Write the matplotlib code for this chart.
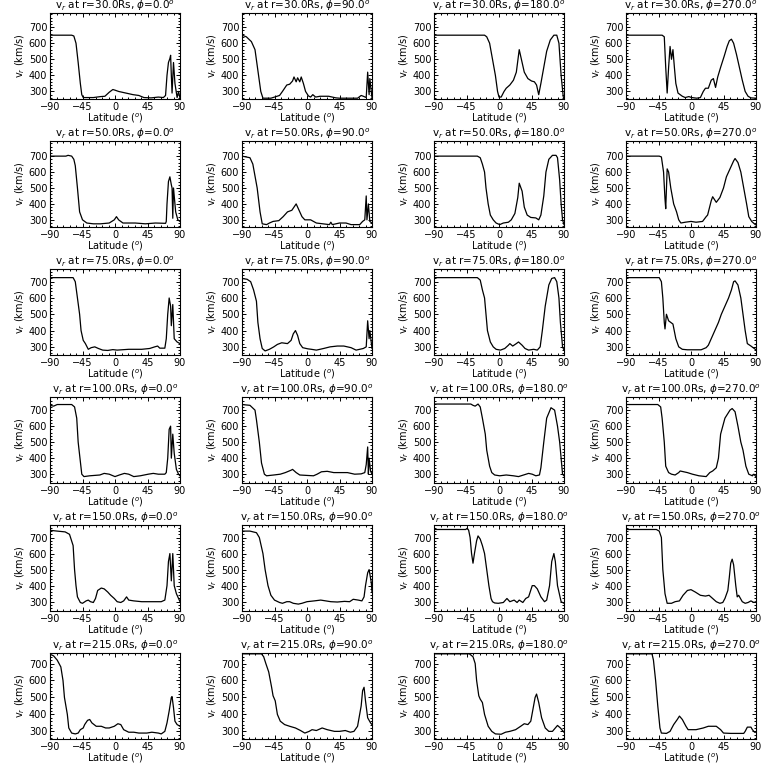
import matplotlib
matplotlib.use("Agg")
import matplotlib.pyplot as plt
from matplotlib.ticker import AutoMinorLocator, MultipleLocator

RADII = [30.0, 50.0, 75.0, 100.0, 150.0, 215.0]
PHIS = [0.0, 90.0, 180.0, 270.0]
XTICKS = [-90, -45, 0, 45, 90]
YTICKS = [300, 400, 500, 600, 700]
# y range of each row
YLIM_LO = [253, 255, 250, 245, 242, 255]
YLIM_HI = [788, 795, 778, 782, 778, 762]

# r = 30 Rs
LAT_R30_P0 = [-90, -60, -57, -54, -51, -48, -46, -44, -30, -20, -14, -8, -3, 0, 5, 15, 25, 33, 40, 50, 60, 67, 70, 72, 74, 76, 77, 78, 79, 81, 83, 86, 88, 90]
V_R30_P0 = [650, 650, 645, 600, 480, 350, 280, 262, 262, 268, 270, 295, 312, 308, 300, 290, 280, 275, 262, 260, 265, 262, 275, 400, 480, 505, 525, 400, 290, 480, 350, 262, 300, 258]
LAT_R30_P90 = [-90, -84, -77, -72, -68, -64, -61, -50, -45, -38, -34, -28, -24, -20, -18, -15, -13, -10, -8, -5, -2, 2, 5, 8, 12, 18, 30, 40, 45, 70, 75, 78, 82, 84, 86, 87, 90]
V_R30_P90 = [650, 640, 610, 560, 430, 300, 258, 258, 265, 275, 300, 340, 345, 365, 390, 360, 385, 360, 390, 350, 300, 272, 265, 280, 265, 270, 270, 260, 258, 258, 275, 270, 262, 420, 280, 380, 260]
LAT_R30_P180 = [-90, -20, -17, -13, -9, -5, -2, 0, 3, 7, 10, 15, 20, 24, 28, 31, 35, 40, 45, 49, 52, 55, 58, 62, 66, 71, 76, 80, 83, 86, 89, 90]
V_R30_P180 = [650, 650, 640, 600, 500, 400, 300, 265, 265, 300, 320, 340, 370, 420, 560, 500, 420, 380, 365, 360, 340, 280, 350, 450, 550, 620, 650, 650, 600, 400, 265, 260]
LAT_R30_P270 = [-90, -40, -37, -35, -33, -31, -29, -27, -25, -23, -21, -18, -12, -8, -3, 1, 8, 13, 17, 20, 24, 28, 31, 34, 37, 41, 46, 50, 53, 56, 59, 63, 67, 71, 75, 79, 83, 90]
V_R30_P270 = [650, 650, 640, 450, 290, 450, 580, 500, 560, 450, 350, 290, 270, 262, 268, 262, 258, 262, 300, 320, 320, 370, 380, 325, 390, 450, 520, 580, 615, 625, 600, 530, 450, 370, 300, 270, 260, 258]

# r = 50 Rs
LAT_R50_P0 = [-90, -68, -65, -60, -57, -55, -52, -49, -45, -39, -30, -20, -8, -1, 2, 5, 11, 28, 42, 56, 70, 71, 72, 74, 76, 78, 79, 80, 81, 84, 87, 90]
V_R50_P0 = [700, 700, 705, 700, 680, 640, 500, 350, 300, 280, 275, 275, 280, 300, 320, 300, 280, 280, 275, 280, 278, 290, 400, 540, 570, 520, 500, 310, 500, 350, 300, 290]
LAT_R50_P90 = [-90, -79, -75, -69, -65, -62, -56, -52, -47, -39, -33, -27, -21, -18, -15, -11, -7, -3, 5, 13, 22, 31, 33, 35, 45, 54, 61, 73, 77, 80, 82, 83, 85, 87, 90]
V_R50_P90 = [700, 690, 650, 500, 350, 275, 270, 280, 290, 295, 320, 350, 360, 380, 400, 360, 320, 300, 300, 280, 275, 270, 285, 270, 280, 280, 270, 270, 290, 300, 450, 300, 400, 290, 280]
LAT_R50_P180 = [-90, -30, -26, -23, -20, -18, -15, -12, -8, -4, 1, 6, 13, 17, 22, 26, 28, 32, 35, 39, 44, 51, 55, 58, 62, 65, 69, 74, 79, 81, 84, 86, 88, 90]
V_R50_P180 = [700, 700, 690, 650, 600, 500, 400, 330, 300, 280, 270, 280, 285, 300, 340, 440, 530, 480, 380, 330, 315, 312, 300, 330, 450, 600, 680, 705, 705, 690, 550, 400, 300, 270]
LAT_R50_P270 = [-90, -44, -41, -38, -36, -35, -33, -31, -28, -24, -20, -17, -14, -8, 0, 7, 16, 21, 23, 28, 30, 35, 40, 45, 49, 54, 59, 61, 65, 69, 73, 77, 80, 84, 89, 90]
V_R50_P270 = [700, 700, 695, 600, 430, 370, 620, 600, 500, 400, 350, 300, 280, 285, 290, 285, 290, 320, 330, 420, 445, 410, 440, 500, 570, 620, 670, 685, 660, 600, 500, 400, 320, 290, 270, 268]

# r = 75 Rs
LAT_R75_P0 = [-90, -58, -55, -52, -49, -47, -44, -41, -37, -33, -28, -23, -17, -10, -3, 3, 19, 37, 48, 55, 59, 62, 69, 71, 73, 75, 77, 78, 80, 82, 86, 90]
V_R75_P0 = [725, 725, 700, 600, 500, 400, 340, 320, 285, 295, 300, 290, 280, 278, 283, 280, 285, 285, 290, 300, 305, 292, 292, 350, 500, 600, 550, 430, 560, 350, 330, 320]
LAT_R75_P90 = [-90, -83, -78, -74, -70, -68, -65, -62, -58, -52, -46, -41, -35, -27, -22, -19, -16, -13, -10, -6, 1, 6, 13, 23, 32, 42, 51, 61, 68, 78, 82, 84, 86, 87, 90]
V_R75_P90 = [720, 715, 700, 650, 580, 450, 350, 290, 275, 285, 300, 315, 325, 320, 340, 380, 400, 370, 320, 295, 288, 285, 280, 290, 300, 305, 305, 295, 280, 290, 300, 460, 350, 400, 290]
LAT_R75_P180 = [-90, -30, -26, -23, -20, -18, -16, -12, -8, -4, 2, 8, 13, 15, 19, 24, 27, 32, 36, 41, 48, 53, 57, 60, 64, 69, 73, 77, 80, 83, 85, 88, 90]
V_R75_P180 = [725, 725, 710, 650, 600, 500, 400, 330, 300, 285, 280, 290, 310, 320, 305, 320, 330, 310, 290, 280, 285, 280, 300, 400, 550, 680, 720, 725, 700, 600, 450, 300, 280]
LAT_R75_P270 = [-90, -44, -41, -39, -37, -36, -34, -31, -28, -25, -21, -17, -12, -5, 14, 21, 24, 28, 33, 38, 42, 47, 52, 56, 59, 61, 65, 69, 72, 75, 78, 83, 89, 90]
V_R75_P270 = [725, 725, 700, 600, 450, 410, 500, 460, 450, 440, 350, 300, 285, 282, 282, 295, 310, 350, 400, 450, 500, 550, 600, 650, 700, 705, 680, 600, 500, 400, 320, 305, 285, 282]

# r = 100 Rs
LAT_R100_P0 = [-90, -85, -80, -60, -56, -53, -51, -48, -46, -43, -35, -21, -15, -8, 0, 6, 13, 19, 26, 35, 46, 53, 60, 69, 71, 73, 75, 77, 78, 80, 82, 85, 88, 90]
V_R100_P0 = [730, 725, 735, 735, 720, 650, 500, 380, 300, 285, 290, 295, 305, 300, 285, 295, 305, 300, 285, 290, 300, 305, 300, 300, 310, 400, 580, 600, 400, 550, 430, 330, 300, 290]
LAT_R100_P90 = [-90, -79, -72, -70, -66, -63, -59, -56, -46, -37, -30, -22, -20, -15, -10, 1, 9, 14, 20, 28, 37, 56, 66, 75, 80, 82, 84, 85, 86, 88, 90]
V_R100_P90 = [735, 730, 700, 640, 500, 370, 300, 290, 295, 300, 310, 325, 330, 310, 295, 292, 290, 300, 315, 318, 310, 310, 300, 302, 310, 360, 470, 300, 400, 320, 300]
LAT_R100_P180 = [-90, -39, -36, -33, -29, -26, -23, -19, -17, -13, -10, -6, 1, 10, 20, 27, 34, 41, 46, 51, 56, 58, 62, 66, 72, 77, 81, 84, 86, 88, 90]
V_R100_P180 = [738, 738, 730, 725, 738, 720, 650, 550, 450, 350, 310, 295, 290, 295, 290, 285, 295, 305, 300, 290, 295, 340, 500, 650, 715, 700, 600, 500, 400, 300, 290]
LAT_R100_P270 = [-90, -46, -42, -40, -37, -35, -31, -27, -22, -17, -15, -5, 2, 11, 21, 26, 30, 35, 38, 41, 47, 54, 57, 61, 65, 69, 72, 76, 80, 85, 87, 90]
V_R100_P270 = [735, 735, 720, 650, 500, 350, 310, 300, 295, 310, 320, 310, 300, 290, 285, 310, 320, 340, 400, 550, 650, 700, 710, 690, 600, 500, 450, 350, 300, 290, 300, 285]

# r = 150 Rs
LAT_R150_P0 = [-90, -80, -69, -63, -58, -56, -54, -52, -48, -45, -40, -37, -34, -30, -27, -24, -19, -15, -10, -6, -1, 3, 8, 12, 16, 19, 26, 37, 51, 64, 69, 72, 74, 76, 78, 80, 82, 85, 88, 90]
V_R150_P0 = [745, 740, 735, 720, 650, 500, 400, 330, 295, 290, 305, 310, 300, 295, 320, 370, 385, 380, 360, 340, 320, 300, 295, 305, 330, 310, 305, 300, 300, 300, 310, 400, 550, 600, 430, 600, 400, 350, 320, 300]
LAT_R150_P90 = [-90, -79, -70, -66, -61, -58, -54, -50, -45, -38, -34, -28, -24, -19, -12, -7, 0, 10, 19, 26, 33, 42, 52, 59, 64, 71, 76, 79, 81, 84, 86, 89, 90]
V_R150_P90 = [740, 740, 730, 700, 600, 500, 400, 340, 310, 295, 290, 300, 300, 290, 285, 290, 300, 305, 310, 305, 300, 298, 302, 300, 315, 310, 305, 330, 400, 480, 500, 420, 360]
LAT_R150_P180 = [-90, -46, -44, -42, -40, -38, -36, -34, -31, -29, -26, -23, -20, -17, -14, -11, -9, -6, -1, 6, 11, 15, 21, 25, 28, 33, 37, 41, 46, 49, 53, 58, 63, 66, 70, 73, 76, 78, 81, 86, 90]
V_R150_P180 = [750, 750, 758, 745, 700, 600, 540, 600, 680, 710, 690, 650, 600, 500, 400, 320, 300, 292, 290, 295, 320, 300, 310, 295, 310, 295, 320, 330, 400, 400, 380, 330, 300, 310, 400, 550, 600, 550, 400, 300, 290]
LAT_R150_P270 = [-90, -48, -44, -41, -39, -36, -33, -27, -22, -16, -11, -5, 0, 6, 13, 20, 25, 30, 35, 40, 44, 47, 51, 53, 55, 57, 59, 62, 64, 66, 71, 75, 79, 83, 87, 90]
V_R150_P270 = [750, 750, 740, 700, 500, 350, 290, 290, 300, 305, 340, 370, 375, 360, 340, 335, 340, 320, 300, 290, 295, 320, 370, 450, 540, 565, 530, 400, 330, 340, 300, 290, 295, 305, 295, 300]

# r = 215 Rs
LAT_R215_P0 = [-90, -85, -80, -75, -72, -70, -66, -64, -60, -55, -51, -48, -44, -42, -38, -35, -32, -26, -19, -13, -8, -1, 4, 8, 12, 19, 26, 33, 44, 51, 60, 64, 69, 72, 75, 78, 79, 81, 83, 86, 90]
V_R215_P0 = [755, 745, 720, 680, 600, 500, 400, 320, 290, 285, 290, 310, 320, 340, 365, 370, 350, 330, 330, 320, 320, 330, 345, 340, 310, 295, 295, 290, 290, 295, 290, 285, 300, 350, 420, 500, 505, 440, 360, 340, 330]
LAT_R215_P90 = [-90, -63, -60, -57, -53, -49, -47, -44, -41, -37, -31, -24, -16, -9, -3, 3, 7, 13, 21, 28, 38, 45, 53, 60, 65, 70, 75, 77, 79, 81, 84, 88, 90]
V_R215_P90 = [757, 757, 740, 700, 650, 560, 510, 480, 400, 360, 340, 330, 320, 305, 290, 300, 310, 305, 320, 310, 300, 300, 305, 295, 300, 330, 450, 540, 560, 480, 380, 350, 340]
LAT_R215_P180 = [-90, -41, -36, -33, -31, -28, -26, -23, -20, -15, -10, -5, 3, 9, 15, 23, 30, 35, 40, 44, 47, 50, 52, 55, 59, 64, 69, 74, 78, 81, 85, 89, 90]
V_R215_P180 = [757, 757, 740, 700, 600, 510, 490, 470, 400, 330, 300, 285, 283, 295, 300, 310, 330, 345, 340, 360, 430, 500, 520, 470, 380, 320, 300, 300, 320, 335, 320, 300, 295]
LAT_R215_P270 = [-90, -54, -52, -49, -46, -43, -41, -34, -29, -24, -19, -16, -12, -7, -4, 7, 17, 24, 35, 41, 45, 55, 73, 75, 78, 83, 85, 88, 90]
V_R215_P270 = [757, 757, 720, 600, 450, 320, 290, 288, 300, 340, 370, 390, 370, 330, 310, 310, 320, 330, 330, 310, 290, 288, 288, 300, 325, 325, 310, 295, 295]

PROFILES = [
    [(LAT_R30_P0, V_R30_P0), (LAT_R30_P90, V_R30_P90), (LAT_R30_P180, V_R30_P180), (LAT_R30_P270, V_R30_P270)],
    [(LAT_R50_P0, V_R50_P0), (LAT_R50_P90, V_R50_P90), (LAT_R50_P180, V_R50_P180), (LAT_R50_P270, V_R50_P270)],
    [(LAT_R75_P0, V_R75_P0), (LAT_R75_P90, V_R75_P90), (LAT_R75_P180, V_R75_P180), (LAT_R75_P270, V_R75_P270)],
    [(LAT_R100_P0, V_R100_P0), (LAT_R100_P90, V_R100_P90), (LAT_R100_P180, V_R100_P180), (LAT_R100_P270, V_R100_P270)],
    [(LAT_R150_P0, V_R150_P0), (LAT_R150_P90, V_R150_P90), (LAT_R150_P180, V_R150_P180), (LAT_R150_P270, V_R150_P270)],
    [(LAT_R215_P0, V_R215_P0), (LAT_R215_P90, V_R215_P90), (LAT_R215_P180, V_R215_P180), (LAT_R215_P270, V_R215_P270)],
]

plt.rcParams["font.family"] = ["DejaVu Sans"]
plt.rcParams["mathtext.fontset"] = "dejavusans"
plt.rcParams["font.size"] = 7

fig = plt.figure(figsize=(7.68, 7.68), dpi=100)

# panel geometry in pixels
left0, col_step, width = 50, 192, 130
bottom0, row_step, height = 99, 128, 86

for i, r in enumerate(RADII):
    for j, phi in enumerate(PHIS):
        lat, v = PROFILES[i][j]
        ax = fig.add_axes([(left0 + j * col_step) / 768,
                           1 - (bottom0 + i * row_step) / 768,
                           width / 768, height / 768])
        ax.plot(lat, v, color="black", lw=0.9)
        ax.set_xlim(-90, 90)
        ax.set_ylim(YLIM_LO[i], YLIM_HI[i])
        ax.set_xticks(XTICKS)
        ax.set_yticks(YTICKS)
        ax.xaxis.set_minor_locator(AutoMinorLocator(5))
        ax.yaxis.set_minor_locator(MultipleLocator(20))
        ax.tick_params(which="both", direction="in", top=True, right=True,
                       labelsize=7, pad=2, width=0.7)
        ax.tick_params(which="major", length=3)
        ax.tick_params(which="minor", length=1.5)
        for s in ax.spines.values():
            s.set_linewidth(0.8)
        ax.set_title(r"v$_r$ at r=%.1fRs, $\phi$=%.1f$^o$" % (r, phi),
                     fontsize=7.5, pad=1)
        ax.set_xlabel(r"Latitude ($^o$)", fontsize=7, labelpad=0)
        ax.set_ylabel(r"v$_r$ (km/s)", fontsize=7, labelpad=1)

fig.savefig("out.png", dpi=100, facecolor="white")
